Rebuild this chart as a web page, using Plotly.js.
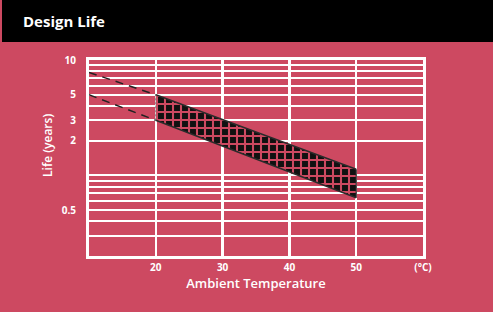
<!DOCTYPE html>
<html>
<head>
<meta charset="utf-8">
<script src="https://cdn.plot.ly/plotly-3.0.1.min.js"></script>
<style>
  html, body { margin: 0; padding: 0; background: #ffffff; }
  #wrap { position: absolute; left: 0; top: 0; width: 493px; height: 312px; background: #CD4961; overflow: hidden; }
  #bar { position: absolute; left: 2px; top: 0; width: 491px; height: 42px; background: #000000; }
  #bar span { position: absolute; left: 21px; top: 11px; font-family: "Open Sans", "Noto Sans", sans-serif; font-weight: 700; font-size: 15px; color: #ffffff; }
  #chart { position: absolute; left: 0; top: 0; width: 493px; height: 312px; }
</style>
</head>
<body>
<div id="wrap">
  <div id="chart"></div>
  <div id="bar"><span>Design Life</span></div>
</div>
<script>
// ---- data ----
const dashTemps   = [10, 20];      // °C, extrapolated (dashed) part
const dashUpper   = [7.8, 5];      // years
const dashLower   = [5, 3];        // years
const bandTemps   = [20, 50];      // °C, rated band
const bandUpper   = [5, 1.13];     // years
const bandLower   = [3, 0.64];     // years

const xTickVals = [20, 30, 40, 50, 60];
const xTickText = ['20', '30', '40', '50', '(°C)'];
const yTickVals = [10, 9, 8, 7, 6, 5, 4, 3, 2, 1, 0.9, 0.8, 0.7, 0.6, 0.5, 0.4, 0.3, 0.2];
const yTickText = ['10', '', '', '', '', '5', '', '3', '2', '', '', '', '', '', '0.5', '', '', ''];

const pink = '#CD4961';
const edge = '#2b2b2b';

const polyX = bandTemps.concat(bandTemps.slice().reverse());
const polyY = bandUpper.concat(bandLower.slice().reverse());

const traces = [
  { x: polyX, y: polyY, mode: 'lines', fill: 'toself', line: { width: 0 },
    fillcolor: '#111111',
    fillpattern: { shape: '+', bgcolor: '#111111', fgcolor: pink, size: 8, solidity: 0.45 },
    hoverinfo: 'skip', showlegend: false },
  { x: dashTemps, y: dashUpper, mode: 'lines', line: { color: '#222', width: 1.5, dash: '8px,6px' }, showlegend: false },
  { x: dashTemps, y: dashLower, mode: 'lines', line: { color: '#222', width: 1.5, dash: '8px,6px' }, showlegend: false },
  { x: bandTemps, y: bandUpper, mode: 'lines', line: { color: edge, width: 1.5 }, showlegend: false },
  { x: bandTemps, y: bandLower, mode: 'lines', line: { color: edge, width: 1.5 }, showlegend: false },
  { x: [bandTemps[0], bandTemps[0]], y: [bandLower[0], bandUpper[0]], mode: 'lines', line: { color: '#777', width: 1, dash: '2px,2px' }, showlegend: false },
  { x: [bandTemps[1], bandTemps[1]], y: [bandLower[1], bandUpper[1]], mode: 'lines', line: { color: edge, width: 1.2 }, showlegend: false }
];

const tickFont = { family: '"Open Sans", "Noto Sans", sans-serif', size: 10, color: '#ffffff', weight: 700 };

const layout = {
  width: 493, height: 312,
  margin: { l: 89, r: 70, t: 60, b: 56, pad: 0 },
  paper_bgcolor: 'rgba(0,0,0,0)',
  plot_bgcolor: 'rgba(0,0,0,0)',
  showlegend: false,
  xaxis: {
    range: [10, 60], tickvals: xTickVals, ticktext: xTickText,
    showgrid: true, gridcolor: '#ffffff', gridwidth: 2.5,
    showline: true, linecolor: '#ffffff', linewidth: 3, mirror: true,
    zeroline: false, ticks: '', ticklabelstandoff: 0,
    tickfont: tickFont,
    title: { text: 'Ambient Temperature', standoff: 4,
      font: { family: '"Open Sans", "Noto Sans", sans-serif', size: 13, color: '#ffffff', weight: 600 } }
  },
  yaxis: {
    type: 'log', range: [Math.log10(0.2), 1],
    tickvals: yTickVals, ticktext: yTickText,
    showgrid: true, gridcolor: '#ffffff', gridwidth: 2,
    showline: true, linecolor: '#ffffff', linewidth: 3, mirror: true,
    zeroline: false, ticks: '', ticklabelstandoff: 8,
    tickfont: tickFont
  },
  annotations: [{
    text: 'Life (years)', textangle: -90, showarrow: false,
    xref: 'paper', yref: 'paper', x: -0.126, y: 0.566, xanchor: 'center', yanchor: 'middle',
    font: { family: '"Open Sans", "Noto Sans", sans-serif', size: 12, color: '#ffffff', weight: 600 }
  }]
};

Plotly.newPlot('chart', traces, layout, { staticPlot: true, displayModeBar: false });
</script>
</body>
</html>
